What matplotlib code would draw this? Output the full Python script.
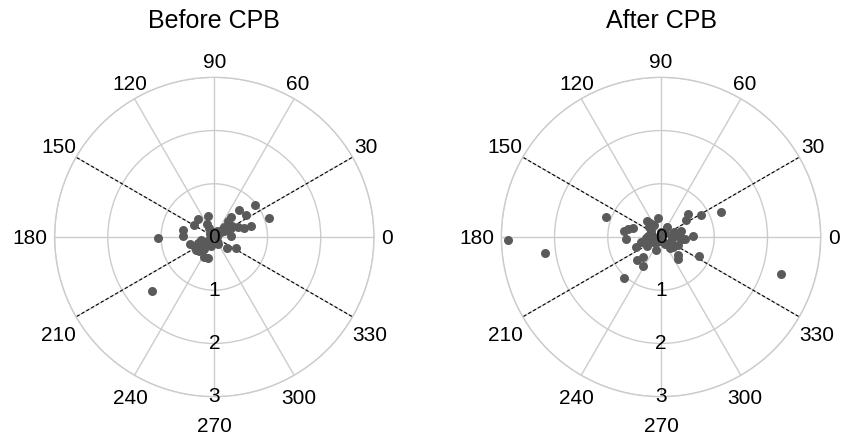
import numpy as np
import matplotlib
matplotlib.use("Agg")
import matplotlib.pyplot as plt

plt.rcParams["font.family"] = ["Liberation Sans", "DejaVu Sans"]

# ── data: angle (deg) and radius for each point ──
before_theta = [38, 48, 35, 19, 17, 17, 23, 50, 50, 106, 133, 149, 168, 178, 181,
                2, 320, 334, 197, 214, 243, 221, 118, 252, 215,
                35, 30, 38, 28, 210, 205, 215, 200, 222, 150, 300, 90, 250, 195,
                230, 0, 60, 40, 212, 25, 32, 208, 218, 45, 120]
before_r = [0.98, 0.68, 0.73, 1.09, 0.73, 0.58, 0.48, 0.48, 0.40, 0.41, 0.45, 0.44,
            0.60, 0.58, 1.05, 0.32, 0.32, 0.46, 0.47, 0.42, 0.43, 1.56, 0.20, 0.41,
            0.35, 0.15, 0.22, 0.28, 0.35, 0.12, 0.20, 0.26, 0.32, 0.38, 0.10, 0.15,
            0.08, 0.18, 0.25, 0.30, 0.05, 0.12, 0.20, 0.30, 0.30, 0.40, 0.40, 0.24,
            0.26, 0.28]

after_theta = [181, 188, 160, 228, 343, 23, 29, 41, 34, 334, 1, 355, 17, 334, 314,
               309, 308, 239, 224, 228, 202, 193, 183, 171, 167, 163, 100, 213,
               131, 127, 119, 0, 5, 180, 175, 90, 340, 300, 320, 230, 150, 210,
               270, 185, 45, 10, 20, 140, 60, 250, 200, 355]
after_r = [2.87, 2.21, 1.11, 1.04, 2.36, 1.22, 0.86, 0.67, 0.56, 0.80, 0.60, 0.46,
           0.39, 0.35, 0.47, 0.52, 0.27, 0.64, 0.63, 0.51, 0.50, 0.39, 0.66, 0.70,
           0.63, 0.55, 0.36, 0.31, 0.40, 0.34, 0.26, 0.20, 0.30, 0.15, 0.25, 0.10,
           0.20, 0.15, 0.30, 0.12, 0.22, 0.18, 0.08, 0.28, 0.10, 0.35, 0.25, 0.30,
           0.22, 0.25, 0.30, 0.40]

titles = ["Before CPB", "After CPB"]
r_ticks = [0, 1, 2, 3]
theta_ticks = list(range(0, 360, 30))
dashed_angles = [30, 150]

GRID = "#cccccc"
DOT = "#5a5a5a"
FS = 15
EM = FS * 100 / 72          # font size in pixels
DIGIT_W = 0.556 * EM
DIGIT_H = 0.716 * EM


def theta_label_offset(deg, text):
    """pixel offset (x right, y down) of a label's centre from the rim point"""
    c, s = np.cos(np.deg2rad(deg)), np.sin(np.deg2rad(deg))
    w = len(text) * DIGIT_W
    ox = np.sign(c) * (7.5 + w / 2) * abs(c) ** 2.5
    if deg == 270:
        oy = 28                      # pushed below the "3" radial label
    elif s >= 0:
        oy = -17 * np.sqrt(s)
    else:
        oy = 23 * np.sqrt(-s)
    return ox, oy


fig = plt.figure(figsize=(8.44, 4.36), dpi=100)
boxes = [[0.0647, 0.0901, 0.3784, 0.7326], [0.5940, 0.0901, 0.3784, 0.7326]]

for box, title, th, rr in zip(boxes, titles, [before_theta, after_theta], [before_r, after_r]):
    ax = fig.add_axes(box, projection="polar")
    ax.set_ylim(0, 3)
    ax.set_thetagrids(theta_ticks, [""] * len(theta_ticks))
    ax.set_rgrids(r_ticks, [""] * len(r_ticks))
    ax.grid(True, color=GRID, lw=1)
    ax.spines["polar"].set_color(GRID)
    ax.spines["polar"].set_linewidth(1)

    for a in dashed_angles:
        t = np.deg2rad(a)
        for ang in (t, t + np.pi):
            ax.plot([ang, ang], [0, 3], color="black", lw=0.8, ls=(0, (3, 2)), zorder=2)

    ax.scatter(np.deg2rad(th), rr, s=42, color=DOT, zorder=3, linewidths=0)

    for r in r_ticks:
        ax.text(np.deg2rad(270), r, str(r), ha="center", va="center", fontsize=FS,
                zorder=4)

    for t in theta_ticks:
        lab = str(t)
        ox, oy = theta_label_offset(t, lab)
        ax.annotate(lab, xy=(np.deg2rad(t), 3), xytext=(ox, -(oy + DIGIT_H / 2)),
                    textcoords="offset pixels", ha="center", va="baseline",
                    fontsize=FS, annotation_clip=False)

    fig.text(box[0] + box[2] / 2, 0.952, title, ha="center", va="center", fontsize=18)

fig.savefig("out.png", dpi=100)
